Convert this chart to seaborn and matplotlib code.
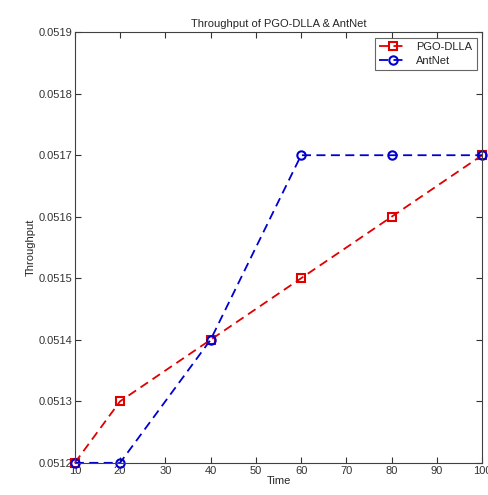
import matplotlib
matplotlib.use('Agg')
import matplotlib.pyplot as plt
import seaborn as sns
import pandas as pd

# data
time = [10, 20, 40, 60, 80, 100]
pgo_dlla = [0.0512, 0.0513, 0.0514, 0.0515, 0.0516, 0.0517]
antnet = [0.0512, 0.0512, 0.0514, 0.0517, 0.0517, 0.0517]

sns.set_style('white')
plt.rcParams['font.family'] = ['Liberation Sans', 'DejaVu Sans']

df = pd.DataFrame({'Time': time * 2,
                   'Throughput': pgo_dlla + antnet,
                   'Series': ['PGO-DLLA'] * len(time) + ['AntNet'] * len(time)})

fig = plt.figure(figsize=(4.89, 4.95), dpi=100)
ax = fig.add_axes([0.153, 0.065, 0.833, 0.870])

sns.lineplot(data=df, x='Time', y='Throughput', hue='Series', style='Series',
             palette={'PGO-DLLA': '#e00000', 'AntNet': '#0000d0'},
             markers={'PGO-DLLA': 's', 'AntNet': 'o'},
             dashes={'PGO-DLLA': (5, 3), 'AntNet': (5, 3)},
             markersize=6, linewidth=1.3, ax=ax)

# MATLAB-style hollow markers
for ln in ax.lines:
    ln.set_markerfacecolor('none')
    ln.set_markeredgecolor(ln.get_color())
    ln.set_markeredgewidth(1.5)
    ln.set_clip_on(False)

ax.set_xlim(10, 100)
ax.set_ylim(0.0512, 0.0519)
ax.set_xticks(range(10, 101, 10))
ax.set_yticks([0.0512 + 0.0001 * i for i in range(8)])
ax.set_yticklabels([f'{0.0512 + 0.0001 * i:.4f}' for i in range(8)])
ax.tick_params(direction='in', length=4, labelsize=8, colors='#333333',
               top=True, right=True, bottom=True, left=True, pad=2)
for s in ax.spines.values():
    s.set_color('#404040')
    s.set_linewidth(0.8)

ax.set_title('Throughput of PGO-DLLA & AntNet', fontsize=8, pad=4)
ax.set_xlabel('Time', fontsize=8, labelpad=0)
ax.set_ylabel('Throughput', fontsize=8, labelpad=2)

leg = ax.legend(loc='upper right', fontsize=8, frameon=True, fancybox=False,
                handlelength=2.5, borderpad=0.4, labelspacing=0.3)
leg.get_frame().set_edgecolor('#404040')
leg.get_frame().set_linewidth(0.8)
for h in leg.legend_handles:
    h.set_markerfacecolor('none')
    h.set_markeredgecolor(h.get_color())
    h.set_markeredgewidth(1.5)

fig.savefig('out.png', dpi=100)
